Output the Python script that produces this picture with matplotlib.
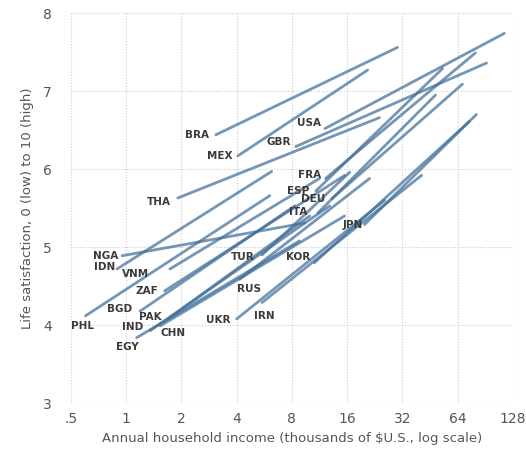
import numpy as np
import matplotlib
matplotlib.use("Agg")
import matplotlib.pyplot as plt

# country codes, line start/end (income in thousands $, life satisfaction 0-10)
countries = ["BRA", "MEX", "USA", "GBR", "THA", "FRA", "ESP", "DEU", "ITA",
             "JPN", "KOR", "IRN", "UKR", "RUS", "TUR", "NGA", "IDN", "VNM",
             "ZAF", "PHL", "BGD", "PAK", "IND", "CHN", "EGY"]
inc_start = [3.08, 4.06, 12.1, 8.4, 1.91, 12.2, 10.8, 13.2, 11.1,
             19.9, 10.6, 5.5, 4.0, 4.16, 5.5, 0.95, 0.89, 1.73,
             1.62, 0.60, 1.19, 1.69, 1.35, 1.53, 1.14]
sat_start = [6.44, 6.17, 6.52, 6.29, 5.63, 5.88, 5.72, 5.62, 5.44,
             5.29, 4.80, 4.29, 4.08, 4.59, 4.90, 4.89, 4.72, 4.72,
             4.44, 4.12, 4.18, 4.08, 3.93, 3.99, 3.84]
inc_end = [30.1, 20.7, 115, 92, 24, 80, 53, 68, 48.5,
           81, 74, 40.7, 25.6, 21.2, 16.5, 9.4, 6.2, 11.3,
           15.5, 6.06, 8.3, 10.0, 12.85, 15.5, 8.8]
sat_end = [7.56, 7.27, 7.74, 7.36, 6.66, 7.49, 7.29, 7.09, 6.95,
           6.70, 6.61, 5.92, 5.60, 5.88, 5.96, 5.31, 5.97, 5.88,
           5.92, 5.66, 5.53, 5.40, 5.53, 5.40, 5.08]

# label positions
lab_x = [2.43, 3.24, 9.9, 6.8, 1.51, 10.0, 8.6, 10.5, 8.6,
         17.1, 8.6, 5.69, 3.16, 4.66, 4.32, 0.77, 0.76, 1.13,
         1.30, 0.58, 0.92, 1.35, 1.09, 1.80, 1.02]
lab_y = [6.44, 6.17, 6.59, 6.35, 5.58, 5.92, 5.72, 5.62, 5.45,
         5.29, 4.88, 4.12, 4.07, 4.47, 4.88, 4.89, 4.75, 4.65,
         4.44, 3.99, 4.21, 4.11, 3.98, 3.90, 3.72]

x_ticks = [0.5, 1, 2, 4, 8, 16, 32, 64, 128]
x_ticklabels = [".5", "1", "2", "4", "8", "16", "32", "64", "128"]
y_ticks = [3, 4, 5, 6, 7, 8]

fig = plt.figure(figsize=(5.26, 4.51), dpi=100)
ax = fig.add_axes([0.135, 0.106, 0.840, 0.865])

for i in range(len(countries)):
    ax.plot([inc_start[i], inc_end[i]], [sat_start[i], sat_end[i]],
            color="#416e99", alpha=0.72, lw=2.0, solid_capstyle="round", zorder=3)
    ax.text(lab_x[i], lab_y[i], countries[i], ha="center", va="center",
            fontsize=7.5, fontweight="bold", color="#3a3a3a", zorder=4)

ax.set_xscale("log", base=2)
ax.set_xlim(0.5, 128)
ax.set_ylim(3, 8)
ax.set_xticks(x_ticks)
ax.set_xticklabels(x_ticklabels)
ax.set_yticks(y_ticks)
ax.minorticks_off()
ax.grid(True, color="#cdcdcd", linestyle=(0, (1, 1.5)), lw=0.8, zorder=0)
for s in ax.spines.values():
    s.set_visible(False)
ax.tick_params(length=0, labelsize=10, colors="#555555")
ax.tick_params(axis="y", pad=14)
ax.tick_params(axis="x", pad=6)
ax.set_xlabel("Annual household income (thousands of $U.S., log scale)",
              fontsize=9.5, color="#555555", labelpad=5)
ax.set_ylabel("Life satisfaction, 0 (low) to 10 (high)",
              fontsize=9.5, color="#555555", labelpad=6)

fig.savefig("out.png", dpi=100)
